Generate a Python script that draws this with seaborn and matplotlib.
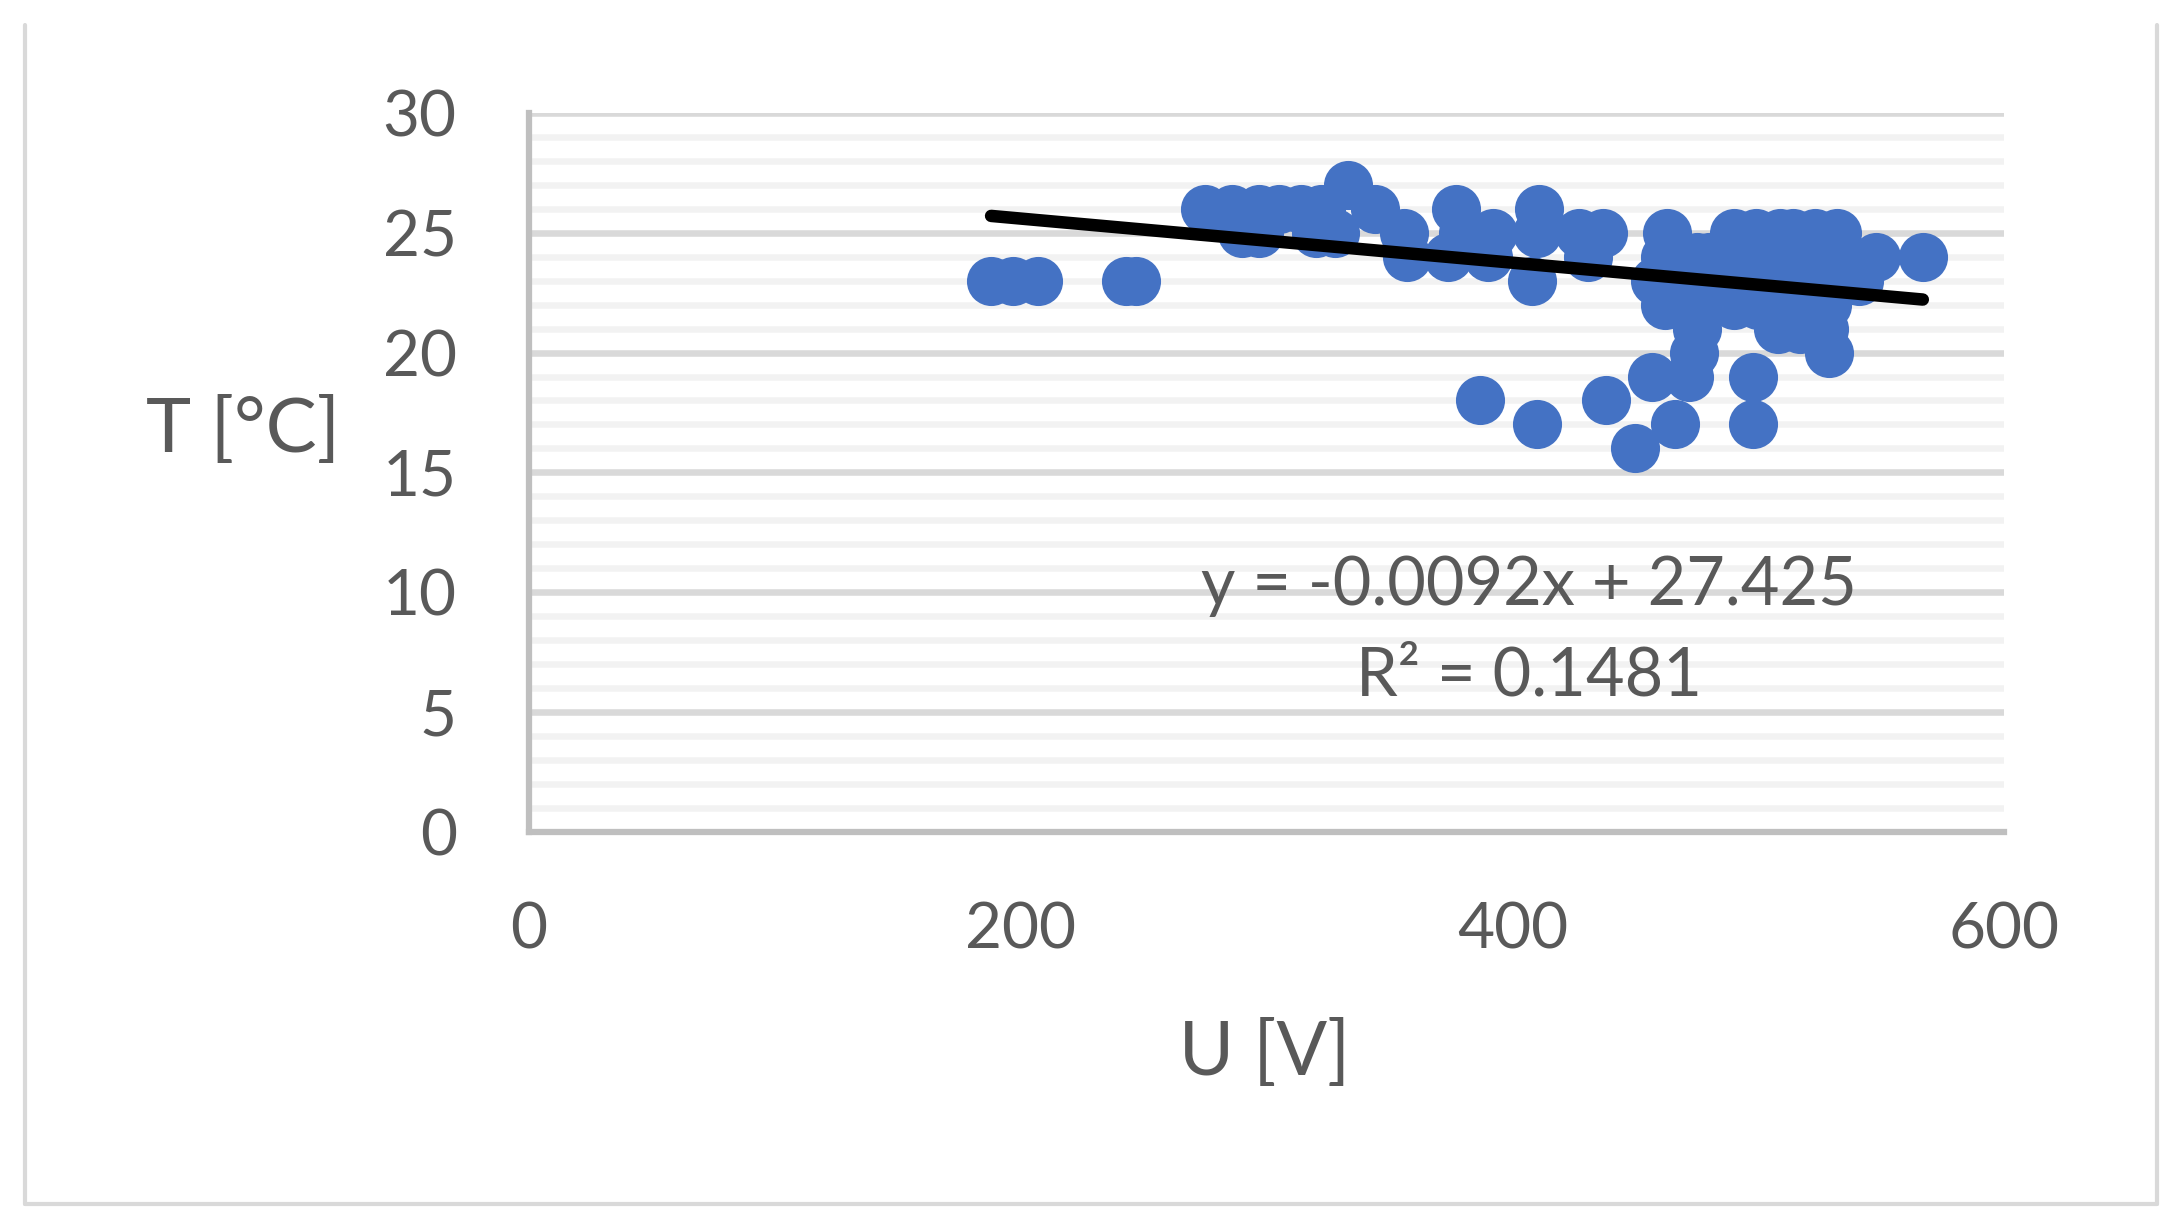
import matplotlib
matplotlib.use("Agg")
import matplotlib.pyplot as plt
from matplotlib.ticker import MultipleLocator
from matplotlib.lines import Line2D
import seaborn as sns
import pandas as pd

# Measured points: voltage U [V] vs temperature T [°C]
u_values = [188, 197, 207, 243, 247, 408, 458, 470, 485, 495, 505, 515, 525, 535, 541,
            275, 286, 297, 305, 314, 322, 344, 377, 411,
            333,
            290, 297, 320, 328, 356, 380, 392, 410, 427, 437, 463, 490, 499, 509, 514, 523, 532,
            357, 374, 390, 431, 462, 475, 480, 490, 500, 510, 520, 530, 548, 567,
            462, 475, 490, 500, 510, 520, 528,
            475, 508, 517, 527,
            474, 529,
            457, 472, 498,
            387, 438,
            410, 466, 498,
            450]
t_values = [23] * 15 + [26] * 9 + [27] + [25] * 17 + [24] * 14 + [22] * 7 + [21] * 4 \
    + [20] * 2 + [19] * 3 + [18] * 2 + [17] * 3 + [16]

# Linear trendline as printed on the chart
slope = -0.0092
intercept = 27.425
r_squared = 0.1481

x_ticks = [0, 200, 400, 600]
y_ticks = [0, 5, 10, 15, 20, 25, 30]

df = pd.DataFrame({"U": u_values, "T": t_values})

sns.set_style("white")
plt.rcParams["font.family"] = ["Lato", "DejaVu Sans"]

text_color = "#595959"
axis_color = "#BFBFBF"

fig = plt.figure(figsize=(21.82, 12.30), dpi=100)
ax = fig.add_axes([0.2424, 0.3234, 0.6760, 0.5850])

# grid: major every 5, minor every 1
ax.yaxis.set_major_locator(MultipleLocator(5))
ax.yaxis.set_minor_locator(MultipleLocator(1))
ax.grid(which="major", axis="y", color="#D9D9D9", linewidth=4.7, zorder=0)
ax.grid(which="minor", axis="y", color="#F2F2F2", linewidth=4.7, zorder=0)
ax.grid(which="major", axis="x", visible=False)
ax.set_axisbelow(True)

sns.scatterplot(data=df, x="U", y="T", s=1250, color="#4472C4", linewidth=0,
                ax=ax, zorder=3, legend=False)

# trendline across the data range
line_x = [min(u_values), max(u_values)]
line_y = [slope * x + intercept for x in line_x]
sns.lineplot(x=line_x, y=line_y, color="black", linewidth=9, ax=ax, zorder=4,
             solid_capstyle="round")

ax.set_xlim(0, 600)
ax.set_ylim(0, 30)
ax.set_xticks(x_ticks)
ax.set_yticks(y_ticks)

for side in ["top", "right"]:
    ax.spines[side].set_visible(False)
for side in ["left", "bottom"]:
    ax.spines[side].set_color(axis_color)
    ax.spines[side].set_linewidth(4.5)
    ax.spines[side].set_zorder(1)

ax.tick_params(axis="y", which="major", length=18, width=4.5, color=axis_color,
               labelsize=46, labelcolor=text_color, pad=34)
ax.tick_params(axis="x", which="major", length=12, width=4.5, color=axis_color,
               labelsize=46, labelcolor=text_color, pad=38)
ax.tick_params(which="minor", length=0)

ax.set_xlabel("U [V]", fontsize=54, color=text_color)
ax.set_ylabel("T [°C]", fontsize=55, color=text_color, rotation=0)
ax.xaxis.set_label_coords(0.499, -0.307)
ax.yaxis.set_label_coords(-0.194, 0.558)
ax.xaxis.label.set_va("center")
ax.yaxis.label.set_va("center")
ax.yaxis.label.set_ha("center")

# trendline equation
ax.text(0.678, 0.342, f"y = {slope}x + {intercept}", transform=ax.transAxes,
        fontsize=48, color=text_color, ha="center", va="center", zorder=5)
ax.text(0.678, 0.217, f"R² = {r_squared}", transform=ax.transAxes,
        fontsize=48, color=text_color, ha="center", va="center", zorder=5)

# chart frame (top edge cut off in the original)
frame = dict(color="#D9D9D9", linewidth=3, transform=fig.transFigure)
fig.add_artist(Line2D([0.0115, 0.0115], [0.021, 0.98], **frame))
fig.add_artist(Line2D([0.9885, 0.9885], [0.021, 0.98], **frame))
fig.add_artist(Line2D([0.0115, 0.9885], [0.021, 0.021], **frame))

fig.savefig("out.png", dpi=100, facecolor="white")
